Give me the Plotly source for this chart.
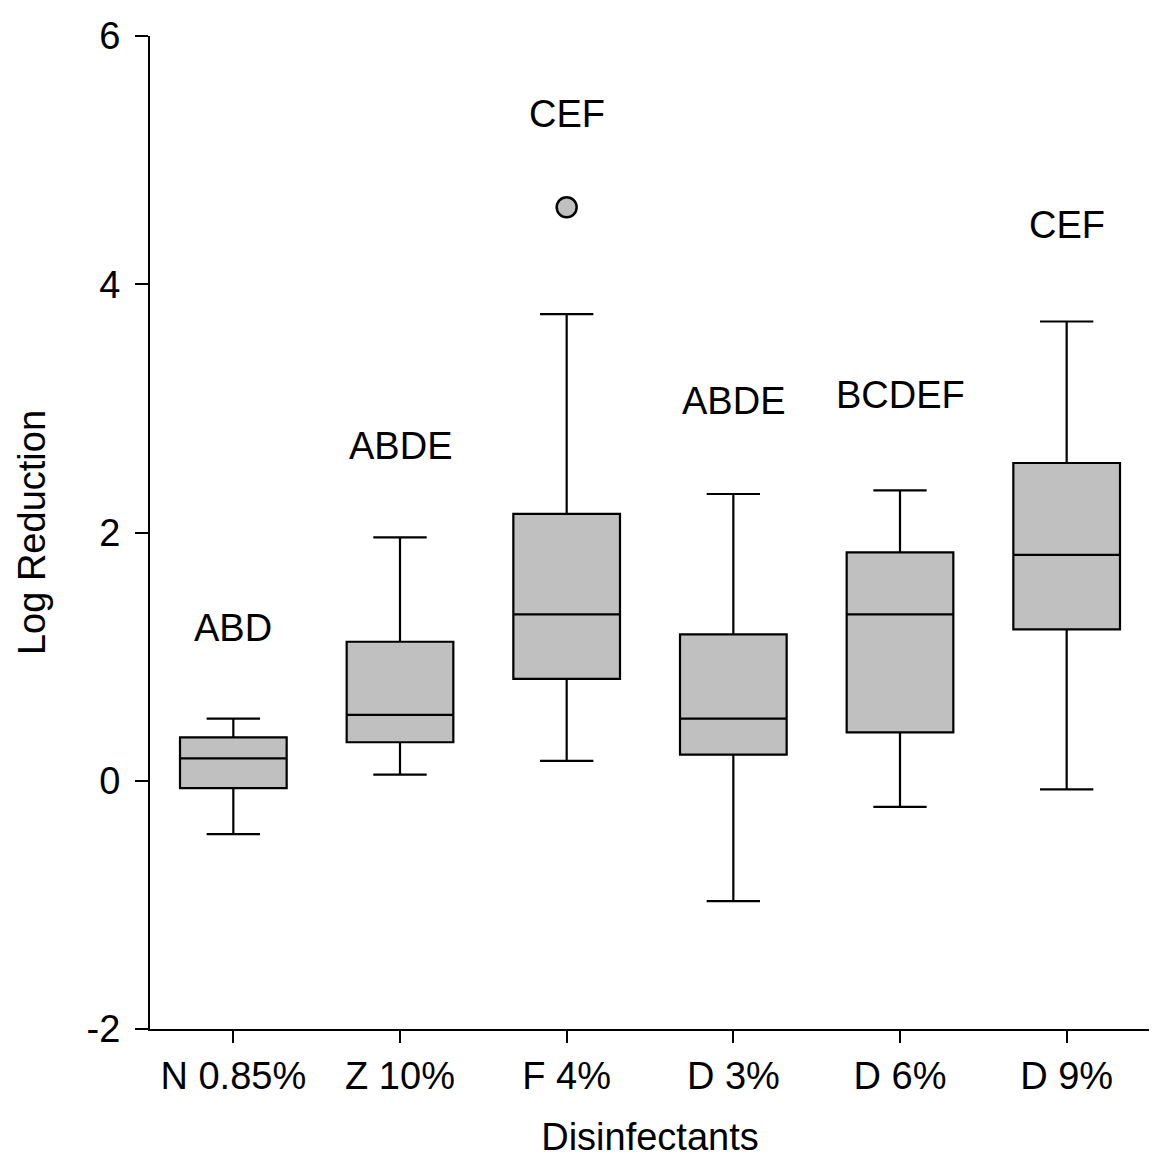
import plotly.graph_objects as go

categories = ["N 0.85%", "Z 10%", "F 4%", "D 3%", "D 6%", "D 9%"]
q1 = [-0.06, 0.31, 0.82, 0.21, 0.39, 1.22]
median = [0.18, 0.53, 1.34, 0.50, 1.34, 1.82]
q3 = [0.35, 1.12, 2.15, 1.18, 1.84, 2.56]
lowerfence = [-0.43, 0.05, 0.16, -0.97, -0.21, -0.07]
upperfence = [0.50, 1.96, 3.76, 2.31, 2.34, 3.70]
outlier_cat = ["F 4%"]
outlier_val = [4.62]
letters = ["ABD", "ABDE", "CEF", "ABDE", "BCDEF", "CEF"]
letter_y = [1.23, 2.70, 5.37, 3.06, 3.11, 4.48]
y_ticks = [-2, 0, 2, 4, 6]
y_ticklabels = ["-2", "0", "2", "4", "6"]

FONT = "Liberation Sans, Arial, sans-serif"
FS = 38

fig = go.Figure()
fig.add_trace(go.Box(
    x=categories, q1=q1, median=median, q3=q3,
    lowerfence=lowerfence, upperfence=upperfence,
    width=0.64, whiskerwidth=0.5,
    fillcolor="#c0c0c0", line=dict(color="black", width=2.2),
    boxpoints=False, showlegend=False, hoverinfo="skip",
))
fig.add_trace(go.Scatter(
    x=outlier_cat, y=outlier_val, mode="markers",
    marker=dict(size=20, color="#c0c0c0", line=dict(color="black", width=2.5)),
    showlegend=False, hoverinfo="skip",
))
for c, t, yv in zip(categories, letters, letter_y):
    fig.add_annotation(x=c, y=yv, text=t, showarrow=False,
                       font=dict(family=FONT, size=FS, color="black"))

fig.update_layout(
    width=1149, height=1150,
    margin=dict(l=142, r=7, t=23, b=127),
    paper_bgcolor="white", plot_bgcolor="white",
    font=dict(family=FONT, size=FS, color="black"),
    xaxis=dict(
        type="category", categoryorder="array", categoryarray=categories,
        range=[-0.5, 5.5], showline=True, linecolor="black", linewidth=2,
        ticks="outside", ticklen=12, tickwidth=2, tickcolor="black",
        showgrid=False, zeroline=False,
        tickfont=dict(family=FONT, size=FS),
        title=dict(text="Disinfectants", font=dict(family=FONT, size=FS), standoff=28),
    ),
    yaxis=dict(
        range=[-2, 6], tickmode="array", tickvals=y_ticks, ticktext=y_ticklabels,
        showline=True, linecolor="black", linewidth=2,
        ticks="outside", ticklen=13, tickwidth=2, tickcolor="black",
        ticklabelstandoff=7,
        showgrid=False, zeroline=False,
        tickfont=dict(family=FONT, size=FS),
        title=dict(text="Log Reduction", font=dict(family=FONT, size=FS), standoff=29),
    ),
)
fig.write_html("out.html")
